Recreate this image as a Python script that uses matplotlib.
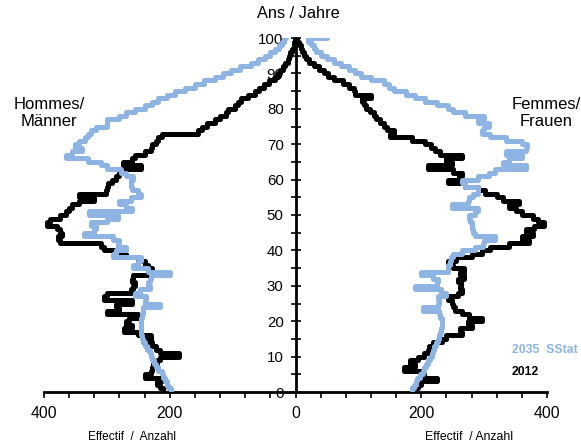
import numpy as np
import matplotlib
matplotlib.use("Agg")
import matplotlib.pyplot as plt
from matplotlib.ticker import MultipleLocator, FixedLocator

plt.rcParams['font.family'] = ['Liberation Sans', 'DejaVu Sans']

ages = list(range(0, 101))

# Hommes / Männer
men_2012 = [210, 215, 220, 212, 240, 230, 228, 226, 220, 215,
            185, 215, 222, 228, 242, 230, 250, 272, 260, 270,
            265, 250, 300, 280, 285, 260, 305, 300, 262, 258,
            255, 260, 258, 235, 228, 235, 240, 250, 270, 280,
            305, 310, 375, 378, 372, 375, 380, 395, 390, 375,
            365, 360, 355, 345, 320, 345, 302, 300, 298, 292,
            285, 280, 275, 245, 275, 260, 255, 240, 230, 228,
            222, 218, 213, 155, 148, 140, 128, 120, 110, 108,
            96, 92, 87, 75, 65, 58, 50, 42, 33, 28,
            24, 20, 16, 12, 10, 8, 5, 3, 2, 1, 0]
men_2035 = [198, 202, 205, 208, 210, 213, 218, 222, 225, 228,
            230, 232, 236, 240, 243, 244, 245, 245, 246, 246,
            245, 244, 243, 243, 215, 240, 238, 255, 248, 232,
            235, 232, 230, 200, 235, 258, 250, 245, 290, 285,
            270, 282, 280, 290, 337, 320, 318, 325, 300, 282,
            328, 260, 270, 281, 262, 245, 250, 260, 262, 262,
            258, 270, 277, 300, 310, 330, 365, 356, 340, 350,
            345, 335, 330, 325, 318, 300, 300, 280, 270, 255,
            240, 228, 218, 205, 191, 175, 160, 145, 128, 115,
            103, 88, 71, 60, 49, 40, 33, 27, 21, 18, 15]

# Femmes / Frauen
women_2012 = [185, 195, 200, 225, 205, 200, 173, 190, 182, 195,
              205, 210, 212, 218, 233, 240, 265, 262, 281, 275,
              297, 276, 265, 254, 250, 249, 243, 258, 265, 262,
              263, 258, 268, 262, 268, 250, 243, 255, 281, 297,
              310, 340, 371, 360, 377, 366, 380, 395, 385, 377,
              361, 350, 340, 355, 330, 320, 302, 290, 270, 243,
              260, 265, 250, 210, 249, 240, 265, 230, 222, 215,
              206, 185, 150, 157, 146, 140, 135, 128, 125, 118,
              112, 109, 105, 120, 95, 93, 85, 75, 61, 52,
              45, 38, 29, 22, 16, 13, 10, 8, 6, 3, 1]
women_2035 = [186, 188, 191, 194, 198, 202, 205, 208, 211, 214,
              217, 219, 221, 223, 226, 228, 230, 232, 233, 233,
              233, 230, 228, 202, 226, 228, 226, 240, 232, 190,
              225, 226, 218, 200, 243, 243, 245, 248, 250, 265,
              286, 299, 300, 318, 286, 283, 281, 280, 277, 276,
              285, 291, 249, 275, 276, 282, 290, 291, 270, 265,
              290, 307, 318, 366, 330, 340, 360, 334, 366, 368,
              360, 334, 310, 297, 300, 307, 290, 300, 270, 250,
              243, 225, 206, 190, 175, 157, 148, 141, 120, 104,
              95, 85, 72, 61, 50, 40, 33, 29, 25, 20, 50]

blue = '#8db4e2'

fig = plt.figure(figsize=(5.81, 4.47), dpi=100)
ax = fig.add_axes([44 / 581, 1 - 392 / 447, 503 / 581, 354 / 447])

lw = 3.6
ax.plot(-np.array(men_2012), ages, color='black', lw=lw, drawstyle='steps-pre',
        solid_joinstyle='round', solid_capstyle='round', zorder=3)
ax.plot(women_2012, ages, color='black', lw=lw, drawstyle='steps-pre',
        solid_joinstyle='round', solid_capstyle='round', zorder=3)
ax.plot(-np.array(men_2035), ages, color=blue, lw=lw, drawstyle='steps-pre',
        solid_joinstyle='round', solid_capstyle='round', zorder=4)
ax.plot(women_2035, ages, color=blue, lw=lw, drawstyle='steps-pre',
        solid_joinstyle='round', solid_capstyle='round', zorder=4)

ax.set_xlim(-400, 400)
ax.set_ylim(0, 100)

# axes: bottom line and central age axis
ax.spines['top'].set_visible(False)
ax.spines['right'].set_visible(False)
ax.spines['left'].set_position(('data', 0))
ax.spines['left'].set_linewidth(2)
ax.spines['bottom'].set_linewidth(2)
ax.spines['left'].set_zorder(5)

ax.xaxis.set_major_locator(FixedLocator([-400, -200, 0, 200, 400]))
ax.xaxis.set_minor_locator(MultipleLocator(40))
ax.set_xticklabels(['400', '200', '0', '200', '400'])
ax.tick_params(axis='x', which='both', direction='out', length=4, width=1.2,
               labelsize=11.3, pad=6)

ax.yaxis.set_major_locator(MultipleLocator(10))
ax.yaxis.set_minor_locator(MultipleLocator(5))
ax.tick_params(axis='y', which='both', direction='inout', length=7, width=1.2,
               labelsize=10.8, pad=5)

fig.text(298 / 581, 1 - 14 / 447, 'Ans / Jahre', ha='center', va='center', fontsize=11.8)
fig.text(49 / 581, 1 - 113 / 447, 'Hommes/\nMänner', ha='center', va='center',
         fontsize=12, linespacing=1.15)
fig.text(546 / 581, 1 - 113 / 447, 'Femmes/\nFrauen', ha='center', va='center',
         fontsize=12, linespacing=1.15)
fig.text(512 / 581, 1 - 350 / 447, '2035  SStat', ha='left', va='center',
         fontsize=8.8, fontweight='bold', color=blue)
fig.text(512 / 581, 1 - 372 / 447, '2012', ha='left', va='center',
         fontsize=8.8, fontweight='bold', color='black')
fig.text(132 / 581, 1 - 437 / 447, 'Effectif  /  Anzahl', ha='center', va='center', fontsize=8.6)
fig.text(469 / 581, 1 - 437 / 447, 'Effectif  / Anzahl', ha='center', va='center', fontsize=8.8)

fig.savefig('out.png', dpi=100)
